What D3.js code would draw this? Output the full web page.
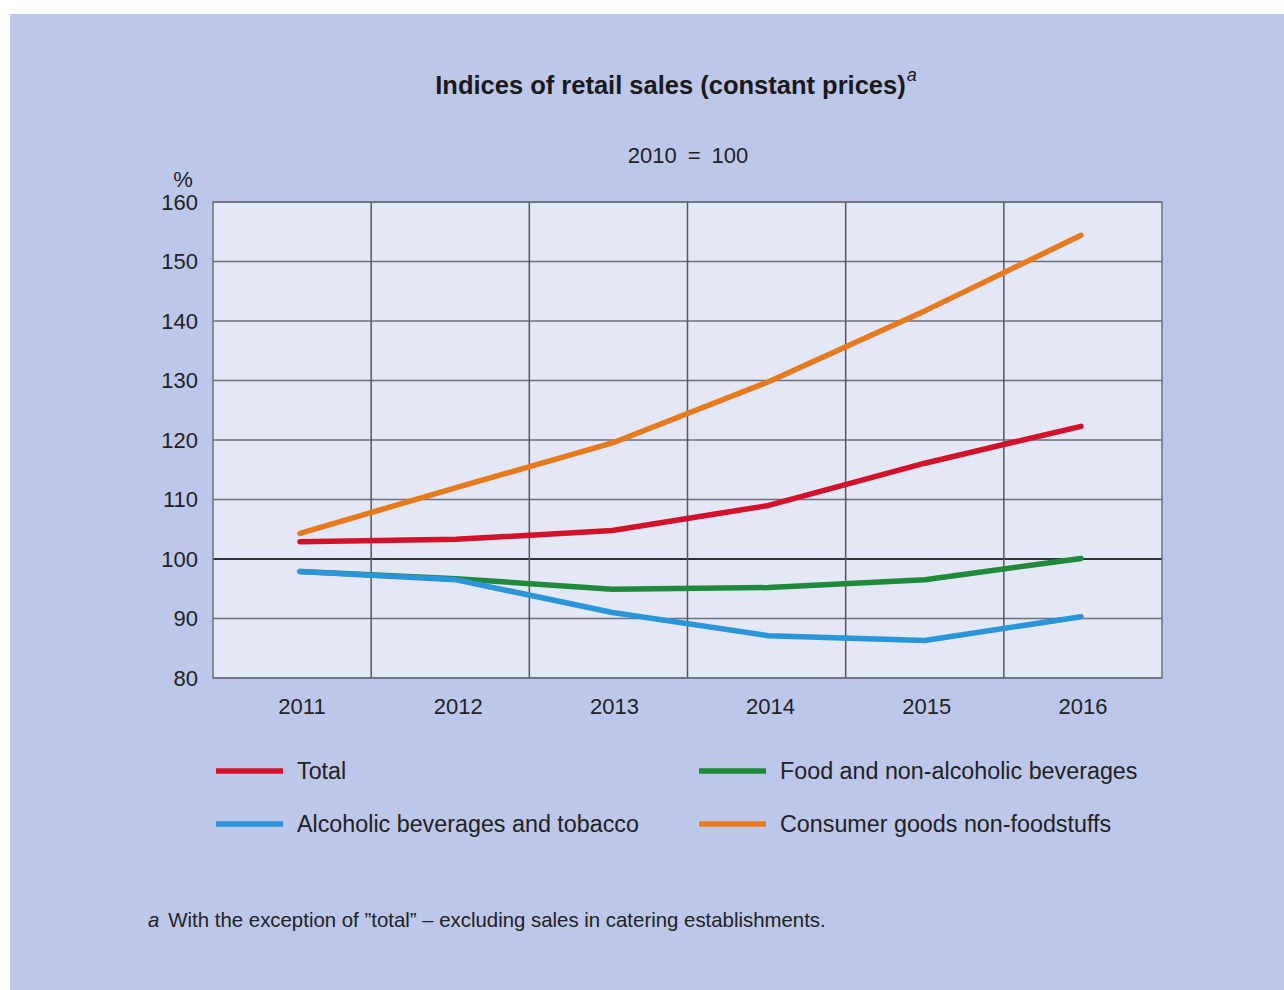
<!DOCTYPE html>
<html>
<head>
<meta charset="utf-8">
<script src="https://cdn.jsdelivr.net/npm/d3@7"></script>
<style>
  html, body { margin: 0; padding: 0; background: #ffffff; }
  svg { display: block; font-family: "Liberation Sans", Arial, Helvetica, sans-serif; }
</style>
</head>
<body>
<svg id="chart" width="1284" height="990"></svg>
<script>
// Retail sales indices, constant prices, 2010 = 100
const years = ["2011", "2012", "2013", "2014", "2015", "2016"];
const total = [102.9, 103.3, 104.8, 109.0, 116.1, 122.3];
const food = [97.9, 96.7, 94.9, 95.2, 96.5, 100.1];
const alcohol = [97.9, 96.5, 91.0, 87.1, 86.3, 90.3];
const nonFood = [104.3, 112.0, 119.5, 129.8, 141.7, 154.4];
const yTicks = [80, 90, 100, 110, 120, 130, 140, 150, 160];

const seriesNames = ["Total", "Food and non-alcoholic beverages", "Alcoholic beverages and tobacco", "Consumer goods non-foodstuffs"];
const seriesColors = ["#d2122b", "#21893a", "#2a95d8", "#e87a1e"];

const svg = d3.select("#chart");

// panel background
svg.append("rect").attr("x", 10).attr("y", 14).attr("width", 1274).attr("height", 976).attr("fill", "#bdc7e9");

const margin = { left: 213, top: 202, right: 1162, bottom: 678 };
const W = margin.right - margin.left, H = margin.bottom - margin.top;
const g = svg.append("g").attr("transform", `translate(${margin.left},${margin.top})`);

const y = d3.scaleLinear().domain([80, 160]).range([H, 0]);
const band = d3.scaleBand().domain(years).range([0, W]);
const x = d3.scalePoint().domain(years).range([87, 868]);

g.append("rect").attr("width", W).attr("height", H).attr("fill", "#e3e7f6");

// horizontal grid
g.append("g").selectAll("line").data(yTicks).join("line")
  .attr("x1", 0).attr("x2", W)
  .attr("y1", d => y(d)).attr("y2", d => y(d))
  .attr("stroke", d => d === 100 ? "#2e3038" : "#6c707c")
  .attr("stroke-width", d => d === 100 ? 2 : 1.5);

// vertical grid
g.append("g").selectAll("line").data(years.slice(1)).join("line")
  .attr("x1", d => band(d)).attr("x2", d => band(d))
  .attr("y1", 0).attr("y2", H)
  .attr("stroke", "#55585f").attr("stroke-width", 1.5);

g.append("rect").attr("width", W).attr("height", H).attr("fill", "none")
  .attr("stroke", "#6c707c").attr("stroke-width", 1.5);

// y tick labels
g.append("g").selectAll("text").data(yTicks).join("text")
  .attr("x", -15).attr("y", d => y(d)).attr("dy", "0.36em")
  .attr("text-anchor", "end").attr("font-size", 22).attr("fill", "#222")
  .text(d => d);
svg.append("text").attr("x", 183).attr("y", 187).attr("text-anchor", "middle")
  .attr("font-size", 22).attr("fill", "#222").text("%");

// x tick labels
g.append("g").selectAll("text").data(years).join("text")
  .attr("x", d => x(d) + 2).attr("y", H + 36)
  .attr("text-anchor", "middle").attr("font-size", 22).attr("fill", "#222")
  .text(d => d);

// lines
const line = d3.line().x((d, i) => x(years[i])).y(d => y(d));
const drawOrder = [[nonFood, 3], [total, 0], [food, 1], [alcohol, 2]];
g.append("g").selectAll("path").data(drawOrder).join("path")
  .attr("d", d => line(d[0]))
  .attr("fill", "none")
  .attr("stroke", d => seriesColors[d[1]])
  .attr("stroke-width", 5.5)
  .attr("stroke-linejoin", "round")
  .attr("stroke-linecap", "round");

// titles
const title = svg.append("text").attr("x", 676).attr("y", 94).attr("text-anchor", "middle")
  .attr("font-size", 25.5).attr("font-weight", "bold").attr("fill", "#1a1a1a");
title.append("tspan").text("Indices of retail sales (constant prices)");
title.append("tspan").attr("dx", 1).attr("dy", -13).attr("font-size", 18).attr("font-weight", "normal")
  .attr("font-style", "italic").text("a");
svg.append("text").attr("x", 688).attr("y", 163).attr("text-anchor", "middle")
  .attr("font-size", 22).attr("fill", "#222").text("2010\u2002=\u2002100");

// legend
const legendItems = [
  { i: 0, lx: 216, ly: 771 },
  { i: 1, lx: 699, ly: 771 },
  { i: 2, lx: 216, ly: 824 },
  { i: 3, lx: 699, ly: 824 }
];
const lg = svg.append("g").selectAll("g").data(legendItems).join("g")
  .attr("transform", d => `translate(${d.lx},${d.ly})`);
lg.append("line").attr("x1", 0).attr("x2", 67).attr("y1", 0).attr("y2", 0)
  .attr("stroke", d => seriesColors[d.i]).attr("stroke-width", 5.5);
lg.append("text").attr("x", 81).attr("y", 8)
  .attr("font-size", 23.3).attr("fill", "#222").text(d => seriesNames[d.i]);

// footnote
const foot = svg.append("text").attr("x", 148).attr("y", 927).attr("font-size", 20.4).attr("fill", "#222");
foot.append("tspan").attr("font-style", "italic").text("a");
foot.append("tspan").attr("dx", 9).text("With the exception of \u201dtotal\u201d \u2013 excluding sales in catering establishments.");
</script>
</body>
</html>
